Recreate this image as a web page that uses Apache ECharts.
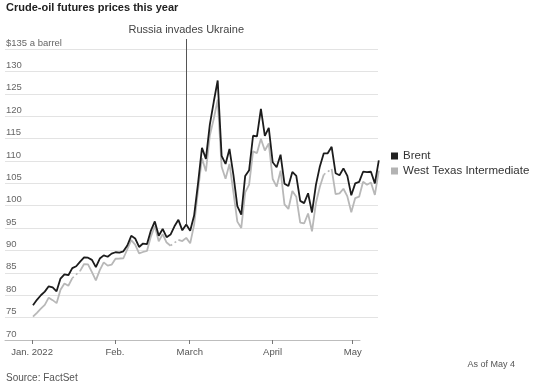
<!DOCTYPE html>
<html>
<head>
<meta charset="utf-8">
<script src="https://cdn.jsdelivr.net/npm/echarts@6/dist/echarts.min.js"></script>
<style>html,body{margin:0;padding:0;background:#fff}#c{width:550px;height:389px}</style>
</head>
<body>
<div id="c"></div>
<script>
// ---- data ----
const dates = [
  '2021-12-31',
  '2022-01-03','2022-01-04','2022-01-05','2022-01-06','2022-01-07','2022-01-10','2022-01-11','2022-01-12','2022-01-13','2022-01-14',
  '2022-01-17','2022-01-18','2022-01-19','2022-01-20','2022-01-21','2022-01-24','2022-01-25','2022-01-26','2022-01-27','2022-01-28','2022-01-31',
  '2022-02-01','2022-02-02','2022-02-03','2022-02-04','2022-02-07','2022-02-08','2022-02-09','2022-02-10','2022-02-11','2022-02-14',
  '2022-02-15','2022-02-16','2022-02-17','2022-02-18','2022-02-21','2022-02-22','2022-02-23','2022-02-24','2022-02-25','2022-02-28',
  '2022-03-01','2022-03-02','2022-03-03','2022-03-04','2022-03-07','2022-03-08','2022-03-09','2022-03-10','2022-03-11','2022-03-14',
  '2022-03-15','2022-03-16','2022-03-17','2022-03-18','2022-03-21','2022-03-22','2022-03-23','2022-03-24','2022-03-25','2022-03-28',
  '2022-03-29','2022-03-30','2022-03-31',
  '2022-04-01','2022-04-04','2022-04-05','2022-04-06','2022-04-07','2022-04-08','2022-04-11','2022-04-12','2022-04-13','2022-04-14',
  '2022-04-15','2022-04-18','2022-04-19','2022-04-20','2022-04-21','2022-04-22','2022-04-25','2022-04-26','2022-04-27','2022-04-28',
  '2022-04-29',
  '2022-05-02','2022-05-03','2022-05-04'
];
const brent = [
  77.78,
  78.98, 80.00, 80.80, 81.99, 81.75, 80.87, 83.72, 84.67, 84.47, 86.06,
  86.48, 87.51, 88.44, 88.38, 87.89, 86.27, 88.20, 88.90, 88.60, 89.30, 89.60,
  89.50, 89.80, 91.11, 93.27, 92.69, 90.78, 91.55, 91.41, 94.44, 96.48,
  93.28, 94.81, 92.97, 93.54, 95.39, 96.84, 94.50, 95.80, 94.40, 97.80,
  104.97, 112.93, 110.46, 118.11, 123.21, 127.98, 111.14, 109.33, 112.67, 106.90,
  99.91, 98.02, 106.64, 107.93, 115.62, 115.48, 121.60, 115.60, 117.40, 109.70,
  108.60, 111.40, 104.90,
  104.39, 107.53, 106.64, 101.07, 100.58, 102.78, 98.48, 104.64, 108.78, 111.70,
  111.70, 113.16, 107.25, 106.80, 108.33, 106.65, 102.32, 104.99, 105.32, 107.59,
  107.50,
  107.58, 104.97, 110.14
];
const wti = [
  75.21,
  76.08, 76.99, 77.85, 79.46, 78.90, 78.23, 81.22, 82.64, 82.12, 83.82,
  null, 85.43, 86.96, 86.90, 85.14, 83.31, 85.60, 87.35, 86.61, 86.82, 88.15,
  88.20, 88.26, 90.27, 92.31, 91.32, 89.36, 89.66, 89.88, 93.10, 95.46,
  92.07, 93.66, 91.76, 91.07, null, 92.35, 92.10, 92.81, 91.59, 95.72,
  103.41, 110.60, 107.67, 115.68, 119.40, 123.70, 108.70, 106.02, 109.33, 103.01,
  96.44, 95.04, 102.98, 104.70, 112.12, 111.76, 114.93, 112.34, 113.90, 105.96,
  104.24, 107.82, 100.28,
  99.27, 103.28, 102.00, 96.23, 96.03, 98.26, 94.29, 100.60, 104.25, 106.95,
  null, 108.21, 102.56, 102.75, 103.79, 102.07, 98.54, 101.70, 102.02, 105.36,
  104.69,
  105.17, 102.41, 107.81
];
const seriesNames = ['Brent', 'West Texas Intermediate'];
// x-axis month ticks: days since Jan 1, 2022
const monthTickDays = [0, 31, 59, 90, 120];
const monthTickLabels = ['Jan. 2022', 'Feb.', 'March', 'April', 'May'];
const yMin = 70, yMax = 135, yStep = 5;
const yTopLabel = '$135 a barrel';
const eventDate = '2022-02-24';
const eventLabel = 'Russia invades Ukraine';
const titleText = 'Crude-oil futures prices this year';
const noteText = 'As of May 4';
const sourceText = 'Source: FactSet';

// ---- layout ----
const H = 389;
const gridTop = 49, gridBottom = 49, dataTop = 39;
const unitPx = (H - gridTop - gridBottom) / (yMax - yMin);
const dataYMax = yMin + (H - gridBottom - dataTop) / unitPx;

const font = "'Liberation Sans',Arial,sans-serif";

const eventIdx = dates.indexOf(eventDate);
const gapSeries = [];
wti.forEach((v, i) => {
  if (v === null && i > 0 && i < wti.length - 1) {
    gapSeries.push({
      type: 'line', xAxisIndex: 0, yAxisIndex: 0, silent: true,
      symbol: 'none', animation: false,
      data: [[dates[i - 1], wti[i - 1]], [dates[i + 1], wti[i + 1]]],
      lineStyle: { color: '#b8b8b8', width: 1.6, type: [2, 3] },
      z: 2
    });
  }
});

const chart = echarts.init(document.getElementById('c'), null, { renderer: 'canvas' });
chart.setOption({
  animation: false,
  backgroundColor: '#fff',
  title: [
    { text: titleText, left: 6, top: 2, padding: 0,
      textStyle: { fontFamily: font, fontWeight: 'bold', fontSize: 11, color: '#222' } },
    { text: noteText, right: 35, top: 360, padding: 0,
      textStyle: { fontFamily: font, fontWeight: 'normal', fontSize: 9, color: '#555' } },
    { text: sourceText, left: 6, top: 373, padding: 0,
      textStyle: { fontFamily: font, fontWeight: 'normal', fontSize: 10, color: '#555' } }
  ],
  legend: {
    data: seriesNames, orient: 'vertical', left: 391, top: 150, padding: 0,
    icon: 'rect', itemWidth: 7, itemHeight: 7, itemGap: 3, selectedMode: false,
    textStyle: { fontFamily: font, fontSize: 11.5, color: '#333' }
  },
  grid: [
    { left: 33, right: 550 - 378.8, top: dataTop, bottom: gridBottom },
    { left: 5, right: 172, top: gridTop, bottom: gridBottom },
    { left: 5, width: 355, top: gridTop, bottom: gridBottom }
  ],
  xAxis: [
    { gridIndex: 0, type: 'category', data: dates, boundaryGap: false, show: false },
    { gridIndex: 1, type: 'value', min: 0, max: 1, show: false },
    { gridIndex: 2, type: 'value', min: -10.13, max: 122.73,
      axisLine: { show: true, lineStyle: { color: '#bdbdbd', width: 1 } },
      axisTick: { show: true, customValues: monthTickDays, length: 4, lineStyle: { color: '#777' } },
      axisLabel: { show: true, customValues: monthTickDays, margin: 7,
        formatter: v => monthTickLabels[monthTickDays.indexOf(v)] || '',
        fontFamily: font, fontSize: 9.5, color: '#555' },
      splitLine: { show: false } }
  ],
  yAxis: [
    { gridIndex: 0, type: 'value', min: yMin, max: dataYMax, show: false },
    { gridIndex: 1, type: 'value', min: yMin, max: yMax, interval: yStep,
      axisLine: { show: false }, axisTick: { show: false },
      splitLine: { show: true, showMinLine: false, lineStyle: { color: '#e3e3e3', width: 1 } },
      axisLabel: { inside: true, align: 'left', verticalAlign: 'bottom', margin: 1,
        padding: [0, 0, 1, 0],
        formatter: v => (v === yMax ? yTopLabel : String(v)),
        fontFamily: font, fontSize: 9.5, color: '#666' } },
    { gridIndex: 2, type: 'value', min: yMin, max: yMax, show: false }
  ],
  series: [
    { name: seriesNames[1], type: 'line', xAxisIndex: 0, yAxisIndex: 0, data: wti,
      symbol: 'none', connectNulls: false, z: 2,
      itemStyle: { color: '#b3b3b3' },
      lineStyle: { color: '#b8b8b8', width: 1.8 } },
    ...gapSeries,
    { name: seriesNames[0], type: 'line', xAxisIndex: 0, yAxisIndex: 0, data: brent,
      symbol: 'none', z: 3,
      itemStyle: { color: '#222' },
      lineStyle: { color: '#1c1c1c', width: 1.8 },
      markLine: {
        silent: true, symbol: ['none', 'none'], animation: false,
        lineStyle: { color: '#555', width: 1, type: 'solid' },
        emphasis: { disabled: true },
        label: { show: true, position: 'end', formatter: eventLabel, distance: 4,
          fontFamily: font, fontSize: 11, color: '#444' },
        data: [[ { coord: [eventDate, brent[eventIdx]] }, { coord: [eventDate, dataYMax] } ]]
      } }
  ]
});
</script>
</body>
</html>
